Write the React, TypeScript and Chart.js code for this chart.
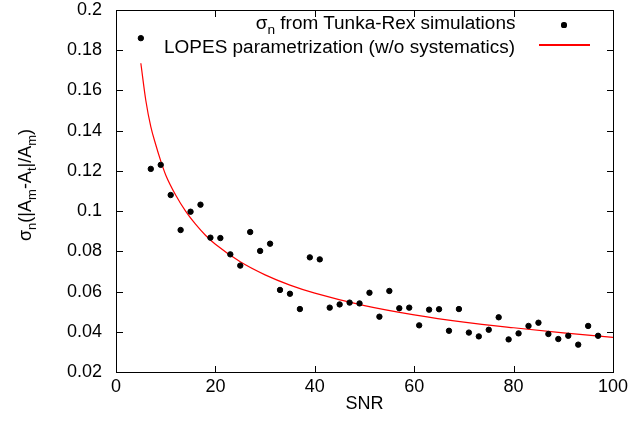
import React, { useEffect, useRef } from "react";
import { Chart, registerables } from "chart.js";

Chart.register(...registerables);

// Simulated noise sigma vs SNR (points)
const snrValues = [5, 7, 9, 11, 13, 15, 17, 19, 21, 23, 25, 27, 29, 31, 33, 35, 37, 39, 41, 43, 45, 47, 49, 51, 53, 55, 57, 59, 61, 63, 65, 67, 69, 71, 73, 75, 77, 79, 81, 83, 85, 87, 89, 91, 93, 95, 97];
const sigmaValues = [0.186, 0.121, 0.123, 0.108, 0.0906, 0.0997, 0.1032, 0.0868, 0.0866, 0.0785, 0.0729, 0.0896, 0.0802, 0.0838, 0.0608, 0.0589, 0.0513, 0.077, 0.076, 0.052, 0.0536, 0.0545, 0.0541, 0.0594, 0.0475, 0.0603, 0.0517, 0.052, 0.0432, 0.051, 0.0512, 0.0405, 0.0513, 0.0396, 0.0377, 0.041, 0.0472, 0.0362, 0.0392, 0.0429, 0.0445, 0.0389, 0.0364, 0.038, 0.0336, 0.0429, 0.038];

// LOPES parametrization curve
const curveSnr = [5, 6, 7, 8, 9, 10, 12, 14, 16, 18, 20, 25, 30, 35, 40, 50, 60, 70, 80, 90, 100];
const curveSigma = [0.1735, 0.155, 0.142, 0.133, 0.125, 0.118, 0.108, 0.1, 0.0935, 0.088, 0.0835, 0.0748, 0.0683, 0.0632, 0.0592, 0.053, 0.0484, 0.0448, 0.042, 0.0395, 0.0372];

const xTicks = [0, 20, 40, 60, 80, 100];
const yTicks = [0.02, 0.04, 0.06, 0.08, 0.1, 0.12, 0.14, 0.16, 0.18, 0.2];
const yTickLabels = ["0.02", "0.04", "0.06", "0.08", "0.1", "0.12", "0.14", "0.16", "0.18", "0.2"];

const xTitle = "SNR";
const legendPointText = " from Tunka-Rex simulations";
const legendLineText = "LOPES parametrization (w/o systematics)";

const FONT = '"Liberation Sans", Arial, Helvetica, sans-serif';

const framePlugin = {
  id: "gnuframe",
  afterDraw(chart: any) {
    const ctx: CanvasRenderingContext2D = chart.ctx;
    const a = chart.chartArea;
    const xs = chart.scales.x;
    const ys = chart.scales.y;
    ctx.save();
    ctx.fillStyle = "#000";
    const L = Math.round(a.left);
    const R = Math.round(a.right);
    const T = Math.round(a.top);
    const B = Math.round(a.bottom);
    ctx.fillRect(L, T, R - L + 1, 1);
    ctx.fillRect(L, B, R - L + 1, 1);
    ctx.fillRect(L, T, 1, B - T + 1);
    ctx.fillRect(R, T, 1, B - T + 1);
    for (const v of xTicks) {
      const px = Math.round(xs.getPixelForValue(v));
      ctx.fillRect(px, B - 6, 1, 6);
      ctx.fillRect(px, T + 1, 1, 6);
    }
    for (const v of yTicks) {
      const py = Math.round(ys.getPixelForValue(v));
      ctx.fillRect(L + 1, py, 6, 1);
      ctx.fillRect(R - 6, py, 6, 1);
    }
    ctx.restore();
  },
};

const sub: React.CSSProperties = { fontSize: 13, position: "relative", top: 5 };
const textBase: React.CSSProperties = { position: "absolute", fontFamily: FONT, fontSize: 18, lineHeight: "18px", whiteSpace: "nowrap", color: "#000" };

export default function App() {
  const ref = useRef<HTMLCanvasElement | null>(null);
  useEffect(() => {
    document.body.style.margin = "0";
    const chart = new Chart(ref.current!, {
      type: "scatter",
      data: {
        datasets: [
          {
            label: "points",
            data: snrValues.map((x, i) => ({ x, y: sigmaValues[i] })),
            pointRadius: 2.7,
            pointBackgroundColor: "#000",
            pointBorderColor: "#000",
            borderColor: "#000",
            backgroundColor: "#000",
          },
          {
            label: "curve",
            data: curveSnr.map((x, i) => ({ x, y: curveSigma[i] })),
            showLine: true,
            pointRadius: 0,
            borderColor: "#ff0000",
            backgroundColor: "#ff0000",
            borderWidth: 1.2,
            cubicInterpolationMode: "monotone",
          },
        ],
      },
      options: {
        responsive: false,
        animation: false,
        layout: { padding: { left: 0, right: 28, top: 10, bottom: 0 } },
        plugins: { legend: { display: false } },
        scales: {
          x: {
            min: xTicks[0],
            max: xTicks[xTicks.length - 1],
            afterBuildTicks: (s: any) => {
              s.ticks = xTicks.map((v) => ({ value: v }));
            },
            afterFit: (s: any) => {
              s.height = 60;
            },
            grid: { display: false, drawTicks: true, tickLength: 4 },
            border: { display: true, color: "#000", width: 1 },
            ticks: { color: "#000", font: { size: 18, family: FONT, lineHeight: 1.2 }, padding: 0, maxRotation: 0 },
          },
          y: {
            min: yTicks[0],
            max: yTicks[yTicks.length - 1],
            afterBuildTicks: (s: any) => {
              s.ticks = yTicks.map((v) => ({ value: v }));
            },
            afterTickToLabelConversion: (s: any) => {
              s.ticks.forEach((t: any, i: number) => {
                t.label = yTickLabels[i];
              });
            },
            afterFit: (s: any) => {
              s.width = 116;
            },
            grid: { display: false, drawTicks: true, tickLength: 14 },
            border: { display: true, color: "#000", width: 1 },
            ticks: { color: "#000", font: { size: 18, family: FONT, lineHeight: 0.01 }, padding: 0 },
          },
        },
      },
      plugins: [framePlugin],
    });
    return () => chart.destroy();
  }, []);
  return (
    <div style={{ position: "absolute", left: 0, top: 0, width: 641, height: 432, background: "#fff", overflow: "hidden" }}>
      <canvas ref={ref} width={641} height={432} style={{ position: "absolute", left: 0, top: 0, width: 641, height: 432 }} />
      <div style={{ ...textBase, left: 364.5, top: 394, transform: "translateX(-50%)" }}>{xTitle}</div>
      <div style={{ ...textBase, left: 26, top: 185, transform: "translate(-50%, -50%) rotate(-90deg)" }}>
        σ<span style={sub}>n</span>(|A<span style={sub}>m</span>-A<span style={sub}>t</span>|/A<span style={sub}>m</span>)
      </div>
      <div style={{ ...textBase, right: 126, top: 14, transform: "scaleX(1.054)", transformOrigin: "right center" }}>
        σ<span style={sub}>n</span>
        {legendPointText}
      </div>
      <div style={{ ...textBase, right: 126, top: 38, transform: "scaleX(1.054)", transformOrigin: "right center" }}>{legendLineText}</div>
      <div style={{ position: "absolute", left: 561.4, top: 22.4, width: 5.2, height: 5.2, borderRadius: "50%", background: "#000" }} />
      <div style={{ position: "absolute", left: 539, top: 44.4, width: 51, height: 1.2, background: "#ff0000" }} />
    </div>
  );
}
